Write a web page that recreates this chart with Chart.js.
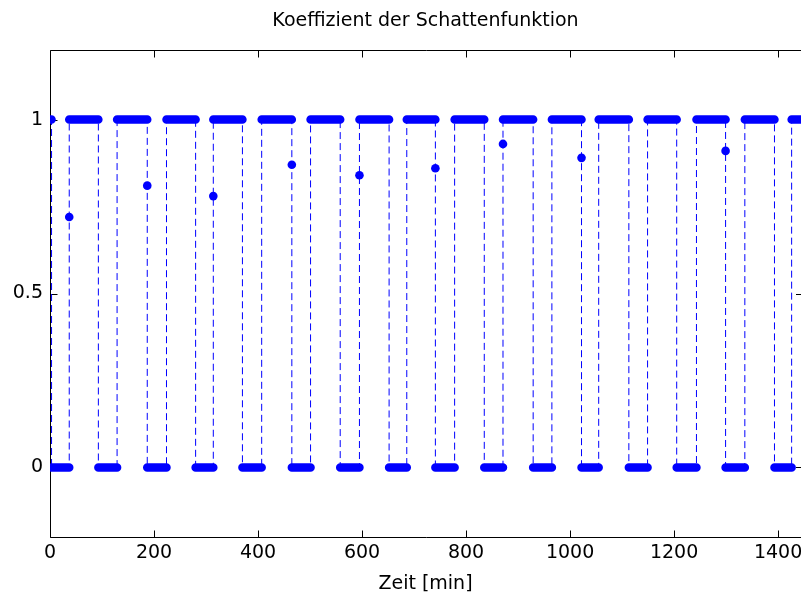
<!DOCTYPE html>
<html lang="de">
<head>
  <meta charset="UTF-8">
  <title>Koeffizient der Schattenfunktion</title>
  <script src="https://cdn.jsdelivr.net/npm/chart.js"></script>
  <style>
    html,body{margin:0;padding:0;background:#fff;}
    #wrap{width:801px;height:597px;}
  </style>
</head>
<body>
  <div id="wrap"><canvas id="shadowChart" width="801" height="597"></canvas></div>
  <script>
    // times in minutes where the coefficient switches
    const dropTimes = [3, 93, 187, 280, 370, 465, 558, 652, 741, 835, 929, 1022, 1113, 1205, 1299, 1393];
    const riseTimes = [37, 129, 224, 314, 407, 501, 595, 686, 778, 871, 965, 1055, 1149, 1243, 1336, 1426];
    // penumbra samples sitting on a switch
    const penumbraTimes = [37, 187, 314, 465, 595, 741, 871, 1022, 1299];
    const penumbraValues = [0.72, 0.81, 0.78, 0.87, 0.84, 0.86, 0.93, 0.89, 0.91];
    const startTime = 0;
    const endTime = 1444;
    const xTicks = [0, 200, 400, 600, 800, 1000, 1200, 1400];
    const yTicks = [0, 0.5, 1];

    const BLUE = '#0000ff';
    const FONT = {family: "'DejaVu Sans', sans-serif", size: 19};

    // merge switches in time order
    const edges = dropTimes.map(t => ({t, from: 1, to: 0}))
      .concat(riseTimes.map(t => ({t, from: 0, to: 1})))
      .sort((a, b) => a.t - b.t);

    const linePts = [{x: startTime, y: 1}];
    const barPts = [];
    let prev = startTime;
    edges.forEach(e => {
      barPts.push({x: prev, y: e.from}, {x: e.t, y: e.from}, {x: e.t, y: null});
      linePts.push({x: e.t, y: e.from});
      const i = penumbraTimes.indexOf(e.t);
      if (i >= 0) linePts.push({x: e.t, y: penumbraValues[i]});
      linePts.push({x: e.t, y: e.to});
      prev = e.t;
    });
    barPts.push({x: prev, y: 1}, {x: endTime, y: 1});
    linePts.push({x: endTime, y: 1});
    const penPts = penumbraTimes.map((t, i) => ({x: t, y: penumbraValues[i]}));

    // box (right side runs off the picture) with inward ticks
    const frameTicks = {
      id: 'frameTicks',
      beforeDatasetsDraw(chart) {
        const {ctx, chartArea: a, scales: {x, y}} = chart;
        const len = 7;
        const l = a.left + 0.5, t = a.top + 0.5, b = a.bottom + 0.5;
        ctx.save();
        ctx.strokeStyle = '#000';
        ctx.lineWidth = 1;
        ctx.beginPath();
        ctx.moveTo(a.right + 2, t); ctx.lineTo(l, t); ctx.lineTo(l, b); ctx.lineTo(a.right + 2, b);
        xTicks.forEach(v => {
          const px = Math.round(x.getPixelForValue(v)) + 0.5;
          ctx.moveTo(px, b); ctx.lineTo(px, b - len);
          ctx.moveTo(px, t); ctx.lineTo(px, t + len);
        });
        yTicks.forEach(v => {
          const py = Math.round(y.getPixelForValue(v)) + 0.5;
          ctx.moveTo(l, py); ctx.lineTo(l + len, py);
          ctx.moveTo(a.right + 2, py); ctx.lineTo(a.right + 2 - len, py);
        });
        ctx.stroke();
        ctx.restore();
      }
    };

    new Chart(document.getElementById('shadowChart'), {
      type: 'line',
      data: {
        datasets: [
          {
            data: penPts, showLine: false, pointRadius: 4.3, pointHoverRadius: 4.3,
            pointBackgroundColor: BLUE, pointBorderWidth: 0, order: 1
          },
          {
            data: barPts, borderColor: BLUE, borderWidth: 8.5, borderCapStyle: 'round',
            pointRadius: 0, spanGaps: false, tension: 0, order: 2
          },
          {
            data: linePts, borderColor: BLUE, borderWidth: 1, borderDash: [7, 4],
            pointRadius: 0, tension: 0, order: 3
          }
        ]
      },
      options: {
        responsive: false,
        animation: false,
        devicePixelRatio: 1,
        layout: {padding: 0, autoPadding: false},
        plugins: {
          legend: {display: false},
          tooltip: {enabled: false},
          title: {display: false}
        },
        scales: {
          x: {
            type: 'linear',
            min: 0, max: endTime,
            grid: {display: false, drawTicks: false},
            border: {display: false},
            ticks: {color: '#000', font: FONT, padding: 5, maxRotation: 0, callback: v => String(v)},
            title: {display: true, text: 'Zeit [min]', color: '#000', font: FONT, padding: {top: 0, bottom: 2}},
            afterBuildTicks: s => { s.ticks = xTicks.map(v => ({value: v})); },
            afterFit: s => { s.height = 60; s.paddingLeft = 0; s.paddingRight = 0; }
          },
          // top axis only carries the title, centred over the plot box
          top: {
            type: 'linear',
            position: 'top',
            min: 0, max: endTime,
            grid: {display: false, drawTicks: false},
            border: {display: false},
            ticks: {display: false},
            title: {display: true, text: 'Koeffizient der Schattenfunktion', color: '#000', font: FONT, padding: {top: 10, bottom: 0}},
            afterFit: s => { s.height = 50; s.paddingLeft = 0; s.paddingRight = 0; }
          },
          y: {
            min: -0.2, max: 1.2,
            grid: {display: false, drawTicks: false},
            border: {display: false},
            ticks: {color: '#000', font: FONT, padding: 7, callback: v => String(v)},
            afterBuildTicks: s => { s.ticks = yTicks.map(v => ({value: v})); },
            afterFit: s => { s.width = 50; s.paddingTop = 0; s.paddingBottom = 0; }
          }
        }
      },
      plugins: [frameTicks]
    });
  </script>
</body>
</html>
